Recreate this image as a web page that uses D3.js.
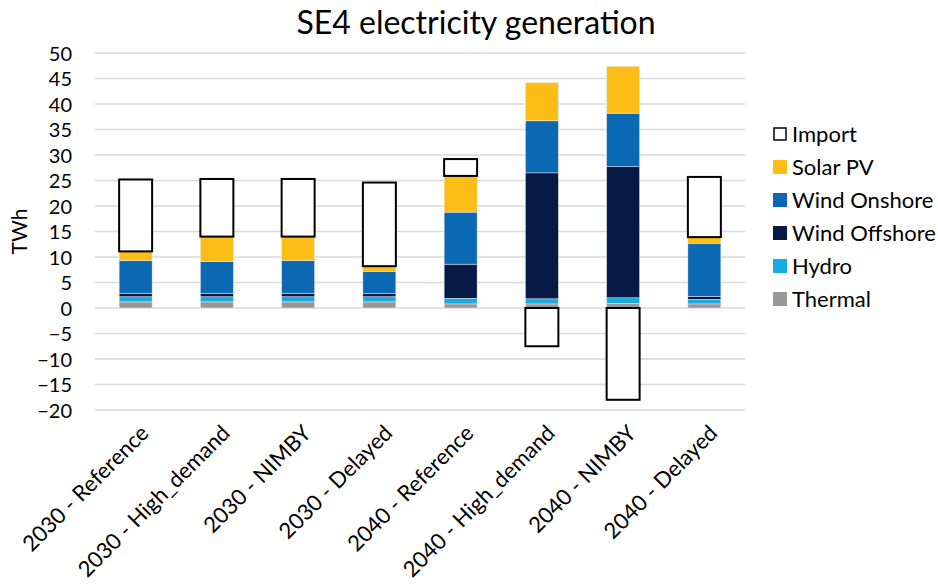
<!DOCTYPE html>
<meta charset="utf-8">
<title>SE4 electricity generation</title>
<style>
 body { margin: 0; background: #fff; }
 text { font-family: Lato, "Open Sans", sans-serif; fill: #000; }
 .grid line { stroke: #d9d9d9; stroke-width: 1.5; }
</style>
<body>
<div id="chart"></div>
<script src="https://d3js.org/d3.v7.min.js"></script>
<script>

// data (TWh)

var categories = ["2030 - Reference", "2030 - High_demand", "2030 - NIMBY", "2030 - Delayed",
                  "2040 - Reference", "2040 - High_demand", "2040 - NIMBY", "2040 - Delayed"];

var thermal  = [1.2, 1.2, 1.2, 1.2, 0.8, 0.8, 0.9, 0.8];
var hydro    = [1.0, 1.0, 1.0, 1.0, 1.1, 1.0, 1.1, 0.9];
var offshore = [0.7, 0.7, 0.7, 0.6, 6.7, 24.7, 25.7, 0.6];
var onshore  = [6.4, 6.2, 6.4, 4.4, 10.2, 10.2, 10.5, 10.4];
var solar    = [1.8, 4.9, 4.7, 1.0, 7.1, 7.5, 9.2, 1.2];
var importv  = [14.1, 11.3, 11.3, 16.4, 3.3, -7.5, -18.0, 11.8];

var yTicks = [-20, -15, -10, -5, 0, 5, 10, 15, 20, 25, 30, 35, 40, 45, 50];

var series = [
  {key: "Thermal",       values: thermal,  color: "#989898"},
  {key: "Hydro",         values: hydro,    color: "#18abe2"},
  {key: "Wind Offshore", values: offshore, color: "#061a45"},
  {key: "Wind Onshore",  values: onshore,  color: "#0b68b3"},
  {key: "Solar PV",      values: solar,    color: "#fcbe16"},
  {key: "Import",        values: importv,  color: "#ffffff"}
];

var W = 938, H = 588;
var margin = {top: 53, left: 95, right: 193, bottom: 178};

var svg = d3.select("#chart").append("svg")
    .attr("width", W)
    .attr("height", H);

// table for the stack
var table = categories.map(function(c, i) {
  var row = {cat: c};
  series.forEach(function(s) { row[s.key] = s.values[i]; });
  return row;
});

var stack = d3.stack()
  .keys(series.map(function(s) { return s.key; }))
  .offset(d3.stackOffsetDiverging);
var layers = stack(table);

var x = d3.scaleBand()
  .domain(categories)
  .range([margin.left, W - margin.right])
  .paddingInner(0.594)
  .paddingOuter(0.297);

var y = d3.scaleLinear()
  .domain([-20, 50])
  .range([H - margin.bottom, margin.top]);

// grid lines
svg.append("g")
  .attr("class", "grid")
  .selectAll("line")
  .data(yTicks)
  .enter().append("line")
  .attr("x1", margin.left)
  .attr("x2", W - margin.right)
  .attr("y1", function(d) { return y(d); })
  .attr("y2", function(d) { return y(d); });

// y axis labels
var yaxis = d3.axisLeft(y).tickValues(yTicks).tickSize(0).tickPadding(0);
svg.append("g")
  .attr("transform", "translate(" + (margin.left - 23) + ",0)")
  .call(yaxis)
  .call(function(g) { g.select(".domain").remove(); })
  .selectAll("text")
  .style("font-size", "20px")
  .attr("dy", "0.35em");

svg.append("text")
  .attr("transform", "translate(27," + y(15) + ") rotate(-90)")
  .attr("text-anchor", "middle")
  .style("font-size", "21px")
  .text("TWh");

// bars
var colorOf = {};
series.forEach(function(s) { colorOf[s.key] = s.color; });

svg.selectAll("g.layer")
  .data(layers)
  .enter().append("g")
  .attr("class", "layer")
  .selectAll("rect")
  .data(function(L) { return L.map(function(d) { d.key = L.key; return d; }); })
  .enter().append("rect")
  .attr("x", function(d) { return x(d.data.cat); })
  .attr("width", x.bandwidth())
  .attr("y", function(d) { return y(Math.max(d[0], d[1])); })
  .attr("height", function(d) { return Math.abs(y(d[0]) - y(d[1])); })
  .attr("fill", function(d) { return colorOf[d.key]; })
  .attr("stroke", function(d) { return d.key == "Import" ? "#000" : "#e8eef5"; })
  .attr("stroke-width", function(d) { return d.key == "Import" ? 2 : 0.5; });

// x labels
var xaxis = d3.axisBottom(x).tickSize(0).tickPadding(0);
svg.append("g")
  .attr("transform", "translate(0," + (H - margin.bottom + 14) + ")")
  .call(xaxis)
  .call(function(g) { g.select(".domain").remove(); })
  .selectAll("text")
  .style("font-size", "22px")
  .attr("text-anchor", "end")
  .attr("dy", "0.35em")
  .attr("transform", "translate(9,5) rotate(-45)");

// title
svg.append("text")
  .attr("x", 476)
  .attr("y", 34)
  .attr("text-anchor", "middle")
  .style("font-size", "32px")
  .text("SE4 electricity generation");

// legend
var legendKeys = series.slice().reverse();
var lg = svg.selectAll("g.leg")
  .data(legendKeys)
  .enter().append("g")
  .attr("class", "leg")
  .attr("transform", function(d, i) { return "translate(773," + (134 + i * 33) + ")"; });

lg.append("rect")
  .attr("x", function(d) { return d.key == "Import" ? 1 : 0; })
  .attr("y", function(d) { return d.key == "Import" ? -6 : -7; })
  .attr("width", function(d) { return d.key == "Import" ? 12 : 14; })
  .attr("height", function(d) { return d.key == "Import" ? 12 : 14; })
  .attr("fill", function(d) { return d.color; })
  .attr("stroke", function(d) { return d.key == "Import" ? "#000" : "none"; })
  .attr("stroke-width", 1.5);

lg.append("text")
  .attr("x", 19)
  .attr("dy", "0.35em")
  .style("font-size", "22px")
  .text(function(d) { return d.key; });

</script>
</body>
